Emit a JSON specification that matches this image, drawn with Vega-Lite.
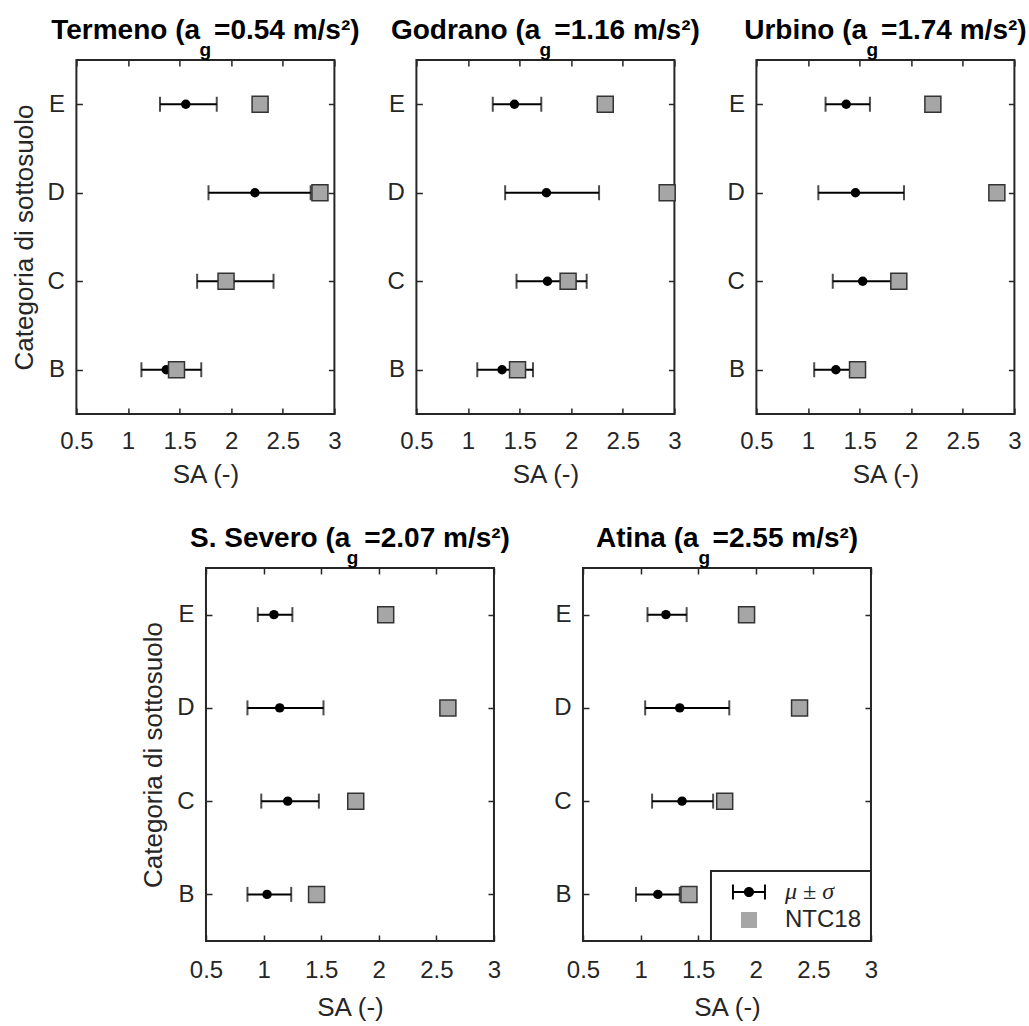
{
  "$schema": "https://vega.github.io/schema/vega-lite/v6.json",
  "padding": {"left": 10, "top": 16, "right": 0, "bottom": 0},
  "background": "white",
  "config": {
    "font": "Liberation Sans",
    "view": {"stroke": "#262626", "strokeWidth": 2},
    "axis": {"domain": false, "grid": false, "tickColor": "#262626", "tickWidth": 1.5, "tickSize": -6, "labelFontSize": 24, "labelColor": "#262626", "titleFontSize": 26, "titleFontWeight": "normal", "titleColor": "#262626", "labelFont": "Liberation Sans", "titleFont": "Liberation Sans"},
    "title": {"fontSize": 28, "fontWeight": "bold", "color": "black", "anchor": "middle", "frame": "group", "offset": -1, "subtitleFontSize": 19, "subtitleFontWeight": "bold", "subtitleColor": "black", "subtitlePadding": -4, "subtitleFont": "Liberation Sans"},
    "legend": {"strokeWidth": 2}
  },
  "datasets": {
    "sa": [
      {"site": "Termeno", "cat": "E", "mean": 1.56, "lo": 1.31, "hi": 1.86, "ntc": 2.28},
      {"site": "Termeno", "cat": "D", "mean": 2.23, "lo": 1.78, "hi": 2.77, "ntc": 2.86},
      {"site": "Termeno", "cat": "C", "mean": 1.99, "lo": 1.67, "hi": 2.41, "ntc": 1.95},
      {"site": "Termeno", "cat": "B", "mean": 1.37, "lo": 1.13, "hi": 1.71, "ntc": 1.47},
      {"site": "Godrano", "cat": "E", "mean": 1.45, "lo": 1.24, "hi": 1.71, "ntc": 2.33},
      {"site": "Godrano", "cat": "D", "mean": 1.76, "lo": 1.36, "hi": 2.27, "ntc": 2.93},
      {"site": "Godrano", "cat": "C", "mean": 1.77, "lo": 1.47, "hi": 2.15, "ntc": 1.97},
      {"site": "Godrano", "cat": "B", "mean": 1.33, "lo": 1.09, "hi": 1.63, "ntc": 1.48},
      {"site": "Urbino", "cat": "E", "mean": 1.37, "lo": 1.17, "hi": 1.60, "ntc": 2.21},
      {"site": "Urbino", "cat": "D", "mean": 1.46, "lo": 1.10, "hi": 1.93, "ntc": 2.83},
      {"site": "Urbino", "cat": "C", "mean": 1.53, "lo": 1.24, "hi": 1.82, "ntc": 1.88},
      {"site": "Urbino", "cat": "B", "mean": 1.27, "lo": 1.06, "hi": 1.49, "ntc": 1.48},
      {"site": "S. Severo", "cat": "E", "mean": 1.09, "lo": 0.95, "hi": 1.25, "ntc": 2.06},
      {"site": "S. Severo", "cat": "D", "mean": 1.14, "lo": 0.86, "hi": 1.52, "ntc": 2.60},
      {"site": "S. Severo", "cat": "C", "mean": 1.21, "lo": 0.98, "hi": 1.48, "ntc": 1.80},
      {"site": "S. Severo", "cat": "B", "mean": 1.03, "lo": 0.86, "hi": 1.24, "ntc": 1.46},
      {"site": "Atina", "cat": "E", "mean": 1.22, "lo": 1.06, "hi": 1.40, "ntc": 1.92},
      {"site": "Atina", "cat": "D", "mean": 1.34, "lo": 1.04, "hi": 1.77, "ntc": 2.38},
      {"site": "Atina", "cat": "C", "mean": 1.36, "lo": 1.10, "hi": 1.63, "ntc": 1.73},
      {"site": "Atina", "cat": "B", "mean": 1.15, "lo": 0.96, "hi": 1.34, "ntc": 1.42}
    ]
  },
  "vconcat": [
    {
      "hconcat": [
        {
          "width": 258, "height": 354,
          "title": {"text": "Termeno (a\u2002=0.54 m/s²)", "subtitle": "g"},
          "data": {"name": "sa"},
          "transform": [{"filter": "datum.site == 'Termeno'"}],
          "layer": [
            {"mark": {"type": "rule", "color": "black", "strokeWidth": 2},
             "encoding": {
               "x": {"field": "lo", "type": "quantitative", "scale": {"domain": [0.5, 3], "nice": false, "zero": false}, "axis": {"title": "SA (-)", "orient": "bottom", "values": [0.5, 1, 1.5, 2, 2.5, 3], "format": "~g", "labelFlush": false, "labelOverlap": false, "labelPadding": 21, "titlePadding": 8}},
               "x2": {"field": "hi"},
               "y": {"field": "cat", "type": "ordinal", "scale": {"type": "point", "domain": ["E", "D", "C", "B"], "padding": 0.5}, "axis": {"title": "Categoria di sottosuolo", "orient": "left", "labelPadding": 18, "titlePadding": 10}}}},
            {"mark": {"type": "tick", "color": "black", "thickness": 2, "size": 15},
             "encoding": {
               "x": {"field": "lo", "type": "quantitative", "axis": {"title": null, "orient": "top", "values": [0.5, 1, 1.5, 2, 2.5, 3], "labels": false}},
               "y": {"field": "cat", "type": "ordinal", "axis": {"title": null, "orient": "right", "labels": false}}}},
            {"mark": {"type": "tick", "color": "black", "thickness": 2, "size": 15},
             "encoding": {"x": {"field": "hi", "type": "quantitative", "axis": null}, "y": {"field": "cat", "type": "ordinal", "axis": null}}},
            {"mark": {"type": "point", "filled": true, "color": "black", "opacity": 1, "size": 90, "shape": "circle"},
             "encoding": {"x": {"field": "mean", "type": "quantitative", "axis": null}, "y": {"field": "cat", "type": "ordinal", "axis": null}}},
            {"mark": {"type": "point", "filled": true, "fill": "#a6a6a6", "stroke": "#333333", "strokeWidth": 1.5, "opacity": 1, "size": 256, "shape": "square"},
             "encoding": {"x": {"field": "ntc", "type": "quantitative", "axis": null}, "y": {"field": "cat", "type": "ordinal", "axis": null}}}
          ],
          "resolve": {"axis": {"x": "independent", "y": "independent"}}
        },
        {
          "width": 258, "height": 354,
          "title": {"text": "Godrano (a\u2002=1.16 m/s²)", "subtitle": "g"},
          "data": {"name": "sa"},
          "transform": [{"filter": "datum.site == 'Godrano'"}],
          "layer": [
            {"mark": {"type": "rule", "color": "black", "strokeWidth": 2},
             "encoding": {
               "x": {"field": "lo", "type": "quantitative", "scale": {"domain": [0.5, 3], "nice": false, "zero": false}, "axis": {"title": "SA (-)", "orient": "bottom", "values": [0.5, 1, 1.5, 2, 2.5, 3], "format": "~g", "labelFlush": false, "labelOverlap": false, "labelPadding": 21, "titlePadding": 8}},
               "x2": {"field": "hi"},
               "y": {"field": "cat", "type": "ordinal", "scale": {"type": "point", "domain": ["E", "D", "C", "B"], "padding": 0.5}, "axis": {"title": null, "orient": "left", "labelPadding": 18}}}},
            {"mark": {"type": "tick", "color": "black", "thickness": 2, "size": 15},
             "encoding": {
               "x": {"field": "lo", "type": "quantitative", "axis": {"title": null, "orient": "top", "values": [0.5, 1, 1.5, 2, 2.5, 3], "labels": false}},
               "y": {"field": "cat", "type": "ordinal", "axis": {"title": null, "orient": "right", "labels": false}}}},
            {"mark": {"type": "tick", "color": "black", "thickness": 2, "size": 15},
             "encoding": {"x": {"field": "hi", "type": "quantitative", "axis": null}, "y": {"field": "cat", "type": "ordinal", "axis": null}}},
            {"mark": {"type": "point", "filled": true, "color": "black", "opacity": 1, "size": 90, "shape": "circle"},
             "encoding": {"x": {"field": "mean", "type": "quantitative", "axis": null}, "y": {"field": "cat", "type": "ordinal", "axis": null}}},
            {"mark": {"type": "point", "filled": true, "fill": "#a6a6a6", "stroke": "#333333", "strokeWidth": 1.5, "opacity": 1, "size": 256, "shape": "square"},
             "encoding": {"x": {"field": "ntc", "type": "quantitative", "axis": null}, "y": {"field": "cat", "type": "ordinal", "axis": null}}}
          ],
          "resolve": {"axis": {"x": "independent", "y": "independent"}}
        },
        {
          "width": 258, "height": 354,
          "title": {"text": "Urbino (a\u2002=1.74 m/s²)", "subtitle": "g\u00a0\u00a0\u00a0\u00a0\u00a0\u200b"},
          "data": {"name": "sa"},
          "transform": [{"filter": "datum.site == 'Urbino'"}],
          "layer": [
            {"mark": {"type": "rule", "color": "black", "strokeWidth": 2},
             "encoding": {
               "x": {"field": "lo", "type": "quantitative", "scale": {"domain": [0.5, 3], "nice": false, "zero": false}, "axis": {"title": "SA (-)", "orient": "bottom", "values": [0.5, 1, 1.5, 2, 2.5, 3], "format": "~g", "labelFlush": false, "labelOverlap": false, "labelPadding": 21, "titlePadding": 8}},
               "x2": {"field": "hi"},
               "y": {"field": "cat", "type": "ordinal", "scale": {"type": "point", "domain": ["E", "D", "C", "B"], "padding": 0.5}, "axis": {"title": null, "orient": "left", "labelPadding": 18}}}},
            {"mark": {"type": "tick", "color": "black", "thickness": 2, "size": 15},
             "encoding": {
               "x": {"field": "lo", "type": "quantitative", "axis": {"title": null, "orient": "top", "values": [0.5, 1, 1.5, 2, 2.5, 3], "labels": false}},
               "y": {"field": "cat", "type": "ordinal", "axis": {"title": null, "orient": "right", "labels": false}}}},
            {"mark": {"type": "tick", "color": "black", "thickness": 2, "size": 15},
             "encoding": {"x": {"field": "hi", "type": "quantitative", "axis": null}, "y": {"field": "cat", "type": "ordinal", "axis": null}}},
            {"mark": {"type": "point", "filled": true, "color": "black", "opacity": 1, "size": 90, "shape": "circle"},
             "encoding": {"x": {"field": "mean", "type": "quantitative", "axis": null}, "y": {"field": "cat", "type": "ordinal", "axis": null}}},
            {"mark": {"type": "point", "filled": true, "fill": "#a6a6a6", "stroke": "#333333", "strokeWidth": 1.5, "opacity": 1, "size": 256, "shape": "square"},
             "encoding": {"x": {"field": "ntc", "type": "quantitative", "axis": null}, "y": {"field": "cat", "type": "ordinal", "axis": null}}}
          ],
          "resolve": {"axis": {"x": "independent", "y": "independent"}}
        }
      ],
      "spacing": 82,
      "bounds": "flush"
    },
    {
      "hconcat": [
        {
          "width": 288, "height": 373,
          "title": {"text": "S. Severo (a\u2002=2.07 m/s²)", "subtitle": "\u200b\u00a0g"},
          "data": {"name": "sa"},
          "transform": [{"filter": "datum.site == 'S. Severo'"}],
          "layer": [
            {"mark": {"type": "rule", "color": "black", "strokeWidth": 2},
             "encoding": {
               "x": {"field": "lo", "type": "quantitative", "scale": {"domain": [0.5, 3], "nice": false, "zero": false}, "axis": {"title": "SA (-)", "orient": "bottom", "values": [0.5, 1, 1.5, 2, 2.5, 3], "format": "~g", "labelFlush": false, "labelOverlap": false, "labelPadding": 23, "titlePadding": 12}},
               "x2": {"field": "hi"},
               "y": {"field": "cat", "type": "ordinal", "scale": {"type": "point", "domain": ["E", "D", "C", "B"], "padding": 0.5}, "axis": {"title": "Categoria di sottosuolo", "orient": "left", "labelPadding": 18, "titlePadding": 10}}}},
            {"mark": {"type": "tick", "color": "black", "thickness": 2, "size": 15},
             "encoding": {
               "x": {"field": "lo", "type": "quantitative", "axis": {"title": null, "orient": "top", "values": [0.5, 1, 1.5, 2, 2.5, 3], "labels": false}},
               "y": {"field": "cat", "type": "ordinal", "axis": {"title": null, "orient": "right", "labels": false}}}},
            {"mark": {"type": "tick", "color": "black", "thickness": 2, "size": 15},
             "encoding": {"x": {"field": "hi", "type": "quantitative", "axis": null}, "y": {"field": "cat", "type": "ordinal", "axis": null}}},
            {"mark": {"type": "point", "filled": true, "color": "black", "opacity": 1, "size": 90, "shape": "circle"},
             "encoding": {"x": {"field": "mean", "type": "quantitative", "axis": null}, "y": {"field": "cat", "type": "ordinal", "axis": null}}},
            {"mark": {"type": "point", "filled": true, "fill": "#a6a6a6", "stroke": "#333333", "strokeWidth": 1.5, "opacity": 1, "size": 256, "shape": "square"},
             "encoding": {"x": {"field": "ntc", "type": "quantitative", "axis": null}, "y": {"field": "cat", "type": "ordinal", "axis": null}}}
          ],
          "resolve": {"axis": {"x": "independent", "y": "independent"}}
        },
        {
          "width": 288, "height": 373,
          "title": {"text": "Atina (a\u2002=2.55 m/s²)\u00a0\u00a0\u00a0\u00a0\u00a0\u200b", "dx": 19.5, "subtitle": "g\u00a0\u00a0\u00a0\u00a0\u00a0\u00a0\u00a0\u00a0\u00a0\u00a0\u00a0\u00a0\u00a0\u00a0\u00a0\u00a0\u200b"},
          "data": {"name": "sa"},
          "transform": [{"filter": "datum.site == 'Atina'"}],
          "layer": [
            {"mark": {"type": "rule", "color": "black", "strokeWidth": 2},
             "encoding": {
               "x": {"field": "lo", "type": "quantitative", "scale": {"domain": [0.5, 3], "nice": false, "zero": false}, "axis": {"title": "SA (-)", "orient": "bottom", "values": [0.5, 1, 1.5, 2, 2.5, 3], "format": "~g", "labelFlush": false, "labelOverlap": false, "labelPadding": 23, "titlePadding": 12}},
               "x2": {"field": "hi"},
               "y": {"field": "cat", "type": "ordinal", "scale": {"type": "point", "domain": ["E", "D", "C", "B"], "padding": 0.5}, "axis": {"title": null, "orient": "left", "labelPadding": 18}}}},
            {"mark": {"type": "tick", "color": "black", "thickness": 2, "size": 15},
             "encoding": {
               "x": {"field": "lo", "type": "quantitative", "axis": {"title": null, "orient": "top", "values": [0.5, 1, 1.5, 2, 2.5, 3], "labels": false}},
               "y": {"field": "cat", "type": "ordinal", "axis": {"title": null, "orient": "right", "labels": false}}}},
            {"mark": {"type": "tick", "color": "black", "thickness": 2, "size": 15},
             "encoding": {"x": {"field": "hi", "type": "quantitative", "axis": null}, "y": {"field": "cat", "type": "ordinal", "axis": null}}},
            {"mark": {"type": "point", "filled": true, "color": "black", "opacity": 1, "size": 90, "shape": "circle"},
             "encoding": {"x": {"field": "mean", "type": "quantitative", "axis": null}, "y": {"field": "cat", "type": "ordinal", "axis": null}}},
            {"mark": {"type": "point", "filled": true, "stroke": "#333333", "strokeWidth": 1.5, "opacity": 1, "size": 256},
             "encoding": {
               "x": {"field": "ntc", "type": "quantitative", "axis": null},
               "y": {"field": "cat", "type": "ordinal", "axis": null},
               "shape": {"datum": "NTC18", "type": "nominal",
                 "scale": {"domain": ["μ ± σ", "NTC18"], "range": ["M-2,-0.12H2V0.12H-2ZM-2.12,-0.95H-1.88V0.95H-2.12ZM1.88,-0.95H2.12V0.95H1.88ZM-0.64,0A0.64,0.64,0,1,1,0.64,0A0.64,0.64,0,1,1,-0.64,0Z", "M-1,-1H1V1H-1Z"]},
                 "legend": {"title": null, "orient": "bottom-right", "offset": 0, "padding": 9, "strokeColor": "#262626", "fillColor": "white", "symbolSize": 256, "symbolStrokeWidth": 1.5, "symbolStrokeColor": "#333333", "symbolOffset": 17, "labelOffset": 24, "labelFontSize": 24, "labelColor": "#262626", "rowPadding": 4, "labelFont": {"expr": "datum.label == 'NTC18' ? 'Liberation Sans' : 'Liberation Serif'"}, "labelFontStyle": {"expr": "datum.label == 'NTC18' ? 'normal' : 'italic'"}}},
               "fill": {"datum": "NTC18", "type": "nominal",
                 "scale": {"domain": ["μ ± σ", "NTC18"], "range": ["black", "#a6a6a6"]},
                 "legend": {"title": null, "orient": "bottom-right", "offset": 0, "padding": 9, "strokeColor": "#262626", "fillColor": "white", "symbolSize": 256, "symbolStrokeWidth": 1.5, "symbolStrokeColor": "#333333", "symbolOffset": 17, "labelOffset": 24, "labelFontSize": 24, "labelColor": "#262626", "rowPadding": 4, "labelFont": {"expr": "datum.label == 'NTC18' ? 'Liberation Sans' : 'Liberation Serif'"}, "labelFontStyle": {"expr": "datum.label == 'NTC18' ? 'normal' : 'italic'"}}}
             }}
          ],
          "resolve": {"axis": {"x": "independent", "y": "independent"}}
        }
      ],
      "spacing": 89,
      "bounds": "flush",
      "resolve": {"scale": {"shape": "independent", "fill": "independent"}, "legend": {"shape": "independent", "fill": "independent"}}
    }
  ],
  "spacing": 36,
  "bounds": "full",
  "center": true,
  "resolve": {"scale": {"shape": "independent", "fill": "independent"}, "legend": {"shape": "independent", "fill": "independent"}}
}
